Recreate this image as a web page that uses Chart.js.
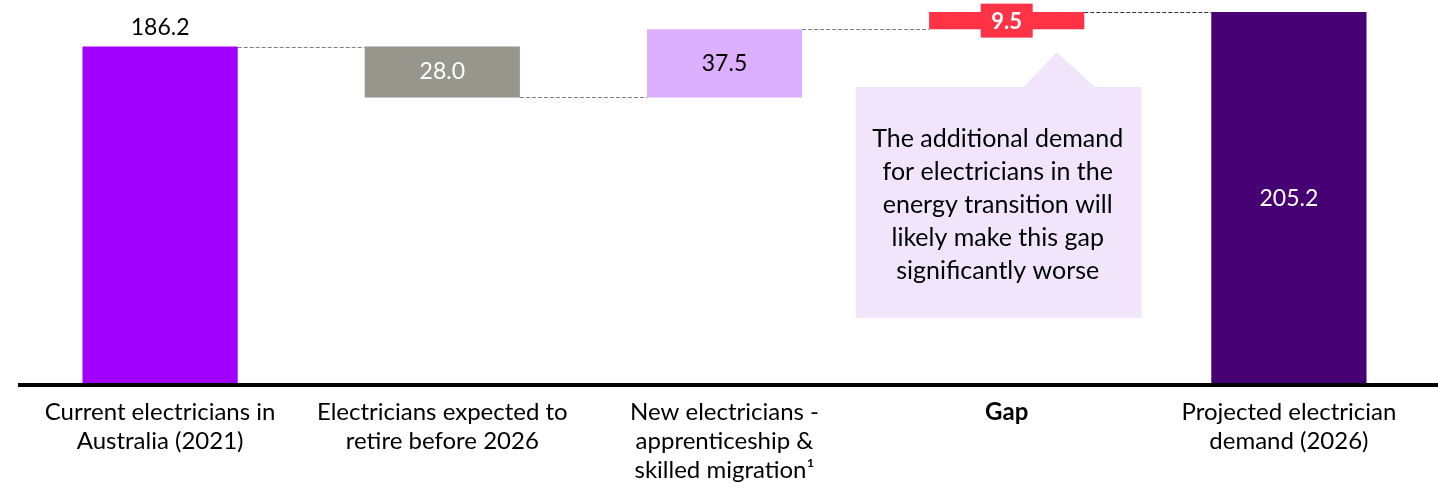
<!DOCTYPE html>
<html>
<head>
<meta charset="utf-8">
<script src="https://cdn.jsdelivr.net/npm/chart.js@4.4.0/dist/chart.umd.min.js"></script>
<style>
  html, body { margin: 0; padding: 0; background: #fff; }
</style>
</head>
<body>
<canvas id="chart" width="1438" height="489"></canvas>
<script>
// ── Data ─────────────────────────────────────────────
const categories = [
  ['Current electricians in', 'Australia (2021)'],
  ['Electricians expected to', 'retire before 2026'],
  ['New electricians -', 'apprenticeship &', 'skilled migration¹'],
  ['Gap'],
  ['Projected electrician', 'demand (2026)']
];
const steps       = [186.2, -28.0, 37.5, 9.5, 205.2];
const isTotal     = [true, false, false, false, true];
const valueLabels = ['186.2', '28.0', '37.5', '9.5', '205.2'];
const barColors   = ['#A100FF', '#96968C', '#DCAFFF', '#FF3246', '#460073'];
const calloutLines = [
  'The additional demand',
  'for electricians in the',
  'energy transition will',
  'likely make this gap',
  'significantly worse'
];

const FONT = 'Lato, "Open Sans", sans-serif';

// floating ranges + running totals
let run = 0;
const ranges = [];
const levels = [];
steps.forEach(function(v, i) {
  if (isTotal[i]) { ranges.push([0, v]); run = v; }
  else { ranges.push([run, run + v]); run = run + v; }
  levels.push(run);
});

// ── Extras: baseline, connectors, value labels, callout ──
const waterfallExtras = {
  id: 'waterfallExtras',
  afterDatasetsDraw(chart) {
    const ctx = chart.ctx;
    const y = chart.scales.y;
    const bars = chart.getDatasetMeta(0).data;
    const area = chart.chartArea;

    ctx.save();

    // connectors
    ctx.lineWidth = 1;
    ctx.setLineDash([4, 2]);
    for (let i = 0; i < bars.length - 1; i++) {
      const a = bars[i], b = bars[i + 1];
      const py = Math.round(y.getPixelForValue(levels[i])) + 0.5;
      ctx.strokeStyle = i === bars.length - 2 ? '#333333' : '#808080';
      ctx.beginPath();
      ctx.moveTo(a.x + a.width / 2, py);
      ctx.lineTo(b.x - b.width / 2, py);
      ctx.stroke();
    }
    ctx.setLineDash([]);

    // baseline
    ctx.strokeStyle = '#000';
    ctx.lineWidth = 4;
    ctx.beginPath();
    ctx.moveTo(18, area.bottom);
    ctx.lineTo(chart.width, area.bottom);
    ctx.stroke();

    // value labels
    ctx.textAlign = 'center';
    ctx.textBaseline = 'middle';
    bars.forEach(function(bar, i) {
      const top = Math.min(bar.y, bar.base);
      const bot = Math.max(bar.y, bar.base);
      const mid = (top + bot) / 2;
      if (i === 0) {
        ctx.font = '23px ' + FONT;
        ctx.fillStyle = '#000';
        ctx.fillText(valueLabels[i], bar.x, top - 19);
      } else if (i === 3) {
        ctx.fillStyle = barColors[3];
        ctx.fillRect(bar.x - 26, mid - 17, 52, 34);
        ctx.font = 'bold 22px ' + FONT;
        ctx.fillStyle = '#fff';
        ctx.fillText(valueLabels[i], bar.x, mid + 1);
      } else {
        ctx.font = '23px ' + FONT;
        ctx.fillStyle = (i === 2) ? '#000' : '#fff';
        ctx.fillText(valueLabels[i], bar.x, mid);
      }
    });

    // callout box pointing at the gap
    const gx = bars[3].x;
    ctx.fillStyle = '#F1E5FC';
    ctx.beginPath();
    ctx.moveTo(gx - 151, 87);
    ctx.lineTo(gx + 17, 87);
    ctx.lineTo(gx + 50, 52);
    ctx.lineTo(gx + 88, 87);
    ctx.lineTo(gx + 135, 87);
    ctx.lineTo(gx + 135, 318);
    ctx.lineTo(gx - 151, 318);
    ctx.closePath();
    ctx.fill();

    ctx.fillStyle = '#000';
    ctx.font = '25px ' + FONT;
    calloutLines.forEach(function(t, k) {
      ctx.fillText(t, gx - 9, 139 + k * 33);
    });

    ctx.restore();
  }
};

new Chart(document.getElementById('chart'), {
  type: 'bar',
  data: {
    labels: categories,
    datasets: [{
      data: ranges,
      backgroundColor: barColors,
      borderWidth: 0,
      categoryPercentage: 1,
      barPercentage: 0.55
    }]
  },
  options: {
    responsive: false,
    animation: false,
    devicePixelRatio: 1,
    layout: { padding: { left: 19, right: 8, top: 12, bottom: 0 } },
    plugins: { legend: { display: false }, tooltip: { enabled: false } },
    scales: {
      y: { display: false, min: 0, max: 205.2 },
      x: {
        grid: { display: false, drawTicks: false },
        border: { display: false },
        afterFit: function(s) { s.height = 104; },
        ticks: {
          padding: 13,
          color: '#000',
          maxRotation: 0,
          autoSkip: false,
          font: function(c) {
            return { family: FONT, size: 24, lineHeight: 1.21, weight: c.index === 3 ? 'bold' : 'normal' };
          }
        }
      }
    }
  },
  plugins: [waterfallExtras]
});
</script>
</body>
</html>
